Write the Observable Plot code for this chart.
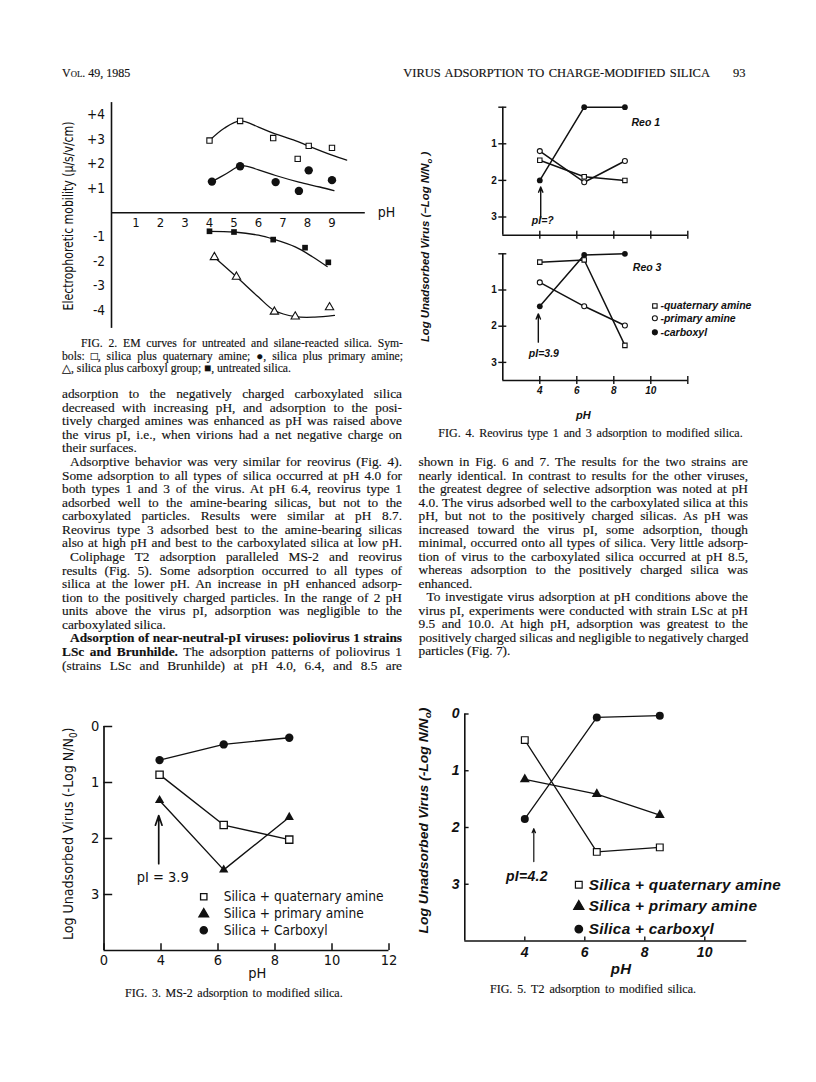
<!DOCTYPE html>
<html><head><meta charset="utf-8">
<script src="https://cdn.jsdelivr.net/npm/d3@7"></script>
<script src="https://cdn.jsdelivr.net/npm/@observablehq/plot@0.6"></script>
<style>
html,body{margin:0;padding:0;background:#fff;}
#page{position:relative;width:816px;height:1082px;overflow:hidden;background:#fff;color:#111;}
.t{position:absolute;white-space:nowrap;line-height:1;font-family:"Liberation Serif","DejaVu Serif",serif;-webkit-text-stroke:0.15px #111;}
.plot{position:absolute;}
.plot svg{max-width:none !important;display:block;}
</style></head><body><div id="page"></div>
<script>
// ---------------- DATA ----------------
// Fig. 2  electrophoretic mobility vs pH
const emQuatPh = [4.0, 5.25, 6.6, 7.6, 8.05, 9.0];
const emQuatVal = [2.95, 3.75, 3.05, 2.2, 2.73, 2.65];
const emPrimPh = [4.1, 5.25, 6.7, 7.65, 8.05, 9.0];
const emPrimVal = [1.27, 1.9, 1.25, 0.89, 1.73, 1.33];
const emUntrPh = [4.0, 5.0, 6.6, 7.9, 8.85];
const emUntrVal = [-0.76, -0.79, -1.1, -1.43, -2.03];
const emCarbPh = [4.2, 5.1, 6.65, 7.5, 8.9];
const emCarbVal = [-1.82, -2.62, -4.05, -4.25, -3.87];
// fitted curves as drawn in the figure
const emQuatCurvePh = [4.0, 4.6, 5.25, 6.0, 6.6, 7.5, 8.05, 9.0, 9.6];
const emQuatCurveVal = [2.95, 3.45, 3.75, 3.5, 3.25, 2.95, 2.72, 2.35, 2.15];
const emPrimCurvePh = [4.1, 4.7, 5.3, 6.0, 6.7, 7.65, 8.5, 9.08];
const emPrimCurveVal = [1.27, 1.6, 1.92, 1.75, 1.52, 1.25, 1.05, 0.9];
const emUntrCurvePh = [4.0, 5.0, 6.0, 6.6, 7.5, 8.2, 8.8];
const emUntrCurveVal = [-0.76, -0.79, -0.92, -1.08, -1.4, -1.8, -2.2];
const emCarbCurvePh = [4.2, 5.1, 6.0, 6.65, 7.5, 8.3, 9.1];
const emCarbCurveVal = [-1.82, -2.62, -3.45, -4.0, -4.25, -4.27, -4.2];
const emXDomain = [0, 10.36];
const emYDomain = [-4.73, 4.5];
const emXTicks = [1, 2, 3, 4, 5, 6, 7, 8, 9];
const emYTicks = [-4, -3, -2, -1, 1, 2, 3, 4];
const emNotes = [{x: 11.22, y: 0, text: "pH"}];

// Fig. 4  reovirus type 1 and 3
const reoPh = [4, 6.4, 8.6];
const reo1Quat = [1.45, 1.9, 2.0];
const reo1Prim = [1.2, 2.05, 1.47];
const reo1Carb = [2.0, 0.0, 0.0];
const reo3Quat = [0.23, 0.17, 2.53];
const reo3Prim = [0.79, 1.45, 1.98];
const reo3Carb = [1.45, 0.03, 0.0];
const reoXDomain = [2, 12];
const reoYDomain = [0, 3.5];
const reoXTicks = [4, 6, 8, 10, 12];
const reoYTicks = [0, 1, 2, 3];
const reo1Arrow = [{x: 4.05, y1: 3.03, y2: 2.18}];
const reo3Arrow = [{x: 3.92, y1: 2.44, y2: 1.66}];
const reo1Notes = [{x: 9.73, y: 0.41, text: "Reo 1", anchor: "start"}, {x: 4.16, y: 3.1, text: "pI=?", anchor: "middle"}];
const reo3Notes = [{x: 9.8, y: 0.39, text: "Reo 3", anchor: "start"}, {x: 4.22, y: 2.76, text: "pI=3.9", anchor: "middle"}];
const reoLegendLabels = ["-quaternary amine", "-primary amine", "-carboxyl"];
const reoLegendY = [1.44, 1.78, 2.17];
const reoLegendSymX = 10.22, reoLegendTextX = 10.52;

// Fig. 3  MS-2
const ms2Ph = [3.95, 6.2, 8.5];
const ms2Carb = [0.6, 0.32, 0.2];
const ms2Quat = [0.86, 1.76, 2.02];
const ms2Prim = [1.32, 2.56, 1.62];
const ms2XDomain = [2, 12];
const ms2YDomain = [0, 4];
const ms2XTicks = [2, 4, 6, 8, 10, 12];
const ms2XTickLabels = ["0", "4", "6", "8", "10", "12"];
const ms2YTicks = [0, 1, 2, 3];
const ms2Arrow = [{x: 3.92, y1: 2.45, y2: 1.59}];
const ms2Notes = [{x: 4.06, y: 2.69, text: "pI = 3.9"}];
const ms2LegendLabels = ["Silica + quaternary amine", "Silica + primary amine", "Silica + Carboxyl"];
const ms2LegendY = [3.04, 3.35, 3.64];
const ms2LegendSymX = 5.5, ms2LegendTextX = 6.2;

// Fig. 5  T2
const t2Ph = [4.0, 6.4, 8.5];
const t2Carb = [1.85, 0.06, 0.03];
const t2Quat = [0.46, 2.43, 2.35];
const t2Prim = [1.15, 1.41, 1.78];
const t2XDomain = [2, 11.4];
const t2YDomain = [0, 4];
const t2XTicks = [4, 6, 8, 10];
const t2YTicks = [0, 1, 2, 3];
const t2Arrow = [{x: 4.3, y1: 2.6, y2: 2.02}];
const t2Notes = [{x: 4.07, y: 2.86, text: "pI=4.2"}];
const t2LegendLabels = ["Silica + quaternary amine", "Silica + primary amine", "Silica + carboxyl"];
const t2LegendY = [3.01, 3.39, 3.79];
const t2LegendSymX = 5.8, t2LegendTextX = 6.13;

// ---------------- TEXT ----------------
const leftLines = [
 ["adsorption to the negatively charged carboxylated silica", 1, 0],
 ["decreased with increasing pH, and adsorption to the posi-", 1, 0],
 ["tively charged amines was enhanced as pH was raised above", 1, 0],
 ["the virus pI, i.e., when virions had a net negative charge on", 1, 0],
 ["their surfaces.", 0, 0],
 ["Adsorptive behavior was very similar for reovirus (Fig. 4).", 1, 1],
 ["Some adsorption to all types of silica occurred at pH 4.0 for", 1, 0],
 ["both types 1 and 3 of the virus. At pH 6.4, reovirus type 1", 1, 0],
 ["adsorbed well to the amine-bearing silicas, but not to the", 1, 0],
 ["carboxylated particles. Results were similar at pH 8.7.", 1, 0],
 ["Reovirus type 3 adsorbed best to the amine-bearing silicas", 1, 0],
 ["also at high pH and best to the carboxylated silica at low pH.", 1, 0],
 ["Coliphage T2 adsorption paralleled MS-2 and reovirus", 1, 1],
 ["results (Fig. 5). Some adsorption occurred to all types of", 1, 0],
 ["silica at the lower pH. An increase in pH enhanced adsorp-", 1, 0],
 ["tion to the positively charged particles. In the range of 2 pH", 1, 0],
 ["units above the virus pI, adsorption was negligible to the", 1, 0],
 ["carboxylated silica.", 0, 0],
 ["<b>Adsorption of near-neutral-pI viruses: poliovirus 1 strains</b>", 1, 1],
 ["<b>LSc and Brunhilde.</b> The adsorption patterns of poliovirus 1", 1, 0],
 ["(strains LSc and Brunhilde) at pH 4.0, 6.4, and 8.5 are", 1, 0]
];
const rightLines = [
 ["shown in Fig. 6 and 7. The results for the two strains are", 1, 0],
 ["nearly identical. In contrast to results for the other viruses,", 1, 0],
 ["the greatest degree of selective adsorption was noted at pH", 1, 0],
 ["4.0. The virus adsorbed well to the carboxylated silica at this", 1, 0],
 ["pH, but not to the positively charged silicas. As pH was", 1, 0],
 ["increased toward the virus pI, some adsorption, though", 1, 0],
 ["minimal, occurred onto all types of silica. Very little adsorp-", 1, 0],
 ["tion of virus to the carboxylated silica occurred at pH 8.5,", 1, 0],
 ["whereas adsorption to the positively charged silica was", 1, 0],
 ["enhanced.", 0, 0],
 ["To investigate virus adsorption at pH conditions above the", 1, 1],
 ["virus pI, experiments were conducted with strain LSc at pH", 1, 0],
 ["9.5 and 10.0. At high pH, adsorption was greatest to the", 1, 0],
 ["positively charged silicas and negligible to negatively charged", 1, 0],
 ["particles (Fig. 7).", 0, 0]
];
const fig2Caption = [
 ["FIG. 2. EM curves for untreated and silane-reacted silica. Sym-", 1, 1],
 ["bols: \u25A1, silica plus quaternary amine; \u25CF, silica plus primary amine;", 1, 0],
 ["\u25B3, silica plus carboxyl group; \u25A0, untreated silica.", 0, 0]
];

// ---------------- HELPERS ----------------
const INK = "#111";
const page = document.getElementById("page");
const NARROW = '"DejaVu Sans Condensed","Liberation Sans Narrow","Liberation Sans",sans-serif';
const BSANS = '"Liberation Sans","DejaVu Sans",sans-serif';

function addText(html, x, cy, o = {}) {
  const fs = o.size || 13.35;
  const el = document.createElement("div");
  el.className = "t";
  el.innerHTML = html;
  el.style.fontSize = fs + "px";
  el.style.left = x + "px";
  el.style.top = (cy - 0.56 * fs) + "px";
  el.style.color = INK;
  if (o.family) el.style.fontFamily = o.family;
  if (o.weight) el.style.fontWeight = o.weight;
  if (o.fstyle) el.style.fontStyle = o.fstyle;
  if (o.variant) el.style.fontVariant = o.variant;
  page.appendChild(el);
  const nat = el.getBoundingClientRect().width;
  if (o.w) {
    const sp = (el.textContent.match(/ /g) || []).length;
    if (o.mode === "j" && nat < o.w && sp) el.style.wordSpacing = ((o.w - nat) / sp) + "px";
    else if (nat > o.w || o.mode === "s") { el.style.transformOrigin = "0 0"; el.style.transform = `scaleX(${o.w / nat})`; }
  }
  return el;
}
function addRot(html, cx, cy, len, o = {}) {
  const el = document.createElement("div");
  el.className = "t";
  el.innerHTML = html;
  el.style.fontSize = (o.size || 13) + "px";
  el.style.fontFamily = o.family || BSANS;
  el.style.webkitTextStroke = "0px";
  if (o.weight) el.style.fontWeight = o.weight;
  if (o.fstyle) el.style.fontStyle = o.fstyle;
  el.style.color = INK;
  page.appendChild(el);
  const w = el.offsetWidth, h = el.offsetHeight;
  el.style.left = (cx - w / 2) + "px";
  el.style.top = (cy - h / 2) + "px";
  el.style.transformOrigin = "50% 50%";
  el.style.transform = `rotate(-90deg) scaleX(${len / w})`;
}
function place(svg, left, top, width) {
  const d = document.createElement("div");
  d.className = "plot";
  d.style.left = left + "px"; d.style.top = top + "px"; d.style.width = width + "px";
  d.appendChild(svg);
  page.appendChild(d);
}
const zip = (xs, ys) => xs.map((x, i) => ({x, y: ys[i]}));
const style = (fam, size, weight = "normal", fst = "normal", ls = "normal") => ({background: "transparent", color: INK, fontFamily: fam, fontSize: size + "px", fontWeight: weight, fontStyle: fst, letterSpacing: ls, overflow: "visible"});

// ---------------- HEADER & TEXT ----------------
addText("Vol. 49, 1985", 61.7, 73.5, {size: 12.5, variant: "small-caps", w: 68.3, mode: "j"});
addText("VIRUS ADSORPTION TO CHARGE-MODIFIED SILICA", 403.3, 74, {size: 12.5, w: 306.7, mode: "j"});
addText("93", 733, 74, {size: 12.5});

fig2Caption.forEach(([s, j, ind], i) => {
  const x = ind ? 81 : 62;
  addText(s, x, 345 + i * 12.1, {size: 11.7, w: 403 - x, mode: j ? "j" : "n"});
});
leftLines.forEach(([s, j, ind], i) => {
  const x = 62 + (ind ? 8 : 0);
  addText(s, x, 394.5 + i * 13.58, {w: 402 - x, mode: j ? "j" : "n"});
});
addText("FIG. 4. Reovirus type 1 and 3 adsorption to modified silica.", 438.3, 434, {size: 12, w: 304.4, mode: "j"});
rightLines.forEach(([s, j, ind], i) => {
  const x = 418.5 + (ind ? 8 : 0);
  addText(s, x, 462.5 + i * 13.5, {w: 748 - x, mode: j ? "j" : "n"});
});
addText("FIG. 3. MS-2 adsorption to modified silica.", 125, 993.3, {size: 12, w: 217.7, mode: "j"});
addText("FIG. 5. T2 adsorption to modified silica.", 490, 990, {size: 12, w: 206, mode: "j"});

// ---------------- FIG 2 ----------------
const fig2 = Plot.plot({
  width: 370, height: 250, marginLeft: 71, marginRight: 45.2, marginTop: 12.1, marginBottom: 12.1,
  x: {domain: emXDomain, axis: null}, y: {domain: emYDomain, axis: null},
  style: style(NARROW, 13.5),
  marks: [
    Plot.ruleX([emXDomain[0]], {y1: emYDomain[0], y2: emYDomain[1], strokeWidth: 1.6, stroke: INK}),
    Plot.ruleY([0], {x1: emXDomain[0], x2: emXDomain[1], strokeWidth: 1.6, stroke: INK}),
    Plot.text(emXTicks, {x: d => d, y: 0, dy: 9.8, text: d => String(d), fill: INK, fontSize: 13}),
    Plot.axisY({ticks: emYTicks, tickSize: 0, tickPadding: 6.5, tickFormat: d => (d > 0 ? "+" : "-") + Math.abs(d), label: null, fill: INK}),
    Plot.text(emNotes, {x: "x", y: "y", text: "text", fill: INK, fontSize: 14}),
    Plot.line(zip(emQuatCurvePh, emQuatCurveVal), {x: "x", y: "y", curve: "catmull-rom", stroke: INK, strokeWidth: 1.3}),
    Plot.line(zip(emPrimCurvePh, emPrimCurveVal), {x: "x", y: "y", curve: "catmull-rom", stroke: INK, strokeWidth: 1.3}),
    Plot.line(zip(emUntrCurvePh, emUntrCurveVal), {x: "x", y: "y", curve: "catmull-rom", stroke: INK, strokeWidth: 1.3}),
    Plot.line(zip(emCarbCurvePh, emCarbCurveVal), {x: "x", y: "y", curve: "catmull-rom", stroke: INK, strokeWidth: 1.3}),
    Plot.dot(zip(emQuatPh, emQuatVal), {x: "x", y: "y", symbol: "square", r: 3.0, fill: "white", stroke: INK, strokeWidth: 1.1}),
    Plot.dot(zip(emPrimPh, emPrimVal), {x: "x", y: "y", symbol: "circle", r: 4.2, fill: INK}),
    Plot.dot(zip(emUntrPh, emUntrVal), {x: "x", y: "y", symbol: "square", r: 3.2, fill: INK}),
    Plot.dot(zip(emCarbPh, emCarbVal), {x: "x", y: "y", symbol: "triangle", r: 3.1, fill: "white", stroke: INK, strokeWidth: 1.1})
  ]
});
place(fig2, 40, 90, 370);
addRot("Electrophoretic mobility (\u03BC/s/v/cm)", 68.3, 216, 189, {family: NARROW, size: 14});

// ---------------- FIG 4 ----------------
function reoPanel(quat, prim, carb, arrow, notes, opts) {
  const marks = [
    Plot.ruleX([reoXDomain[0]], {y1: reoYDomain[0], y2: reoYDomain[1], strokeWidth: 1.6, stroke: INK}),
    Plot.ruleY([reoYDomain[1]], {x1: reoXDomain[0], x2: reoXDomain[1], strokeWidth: 1.6, stroke: INK}),
    Plot.axisY({ticks: reoYTicks, tickSize: 8, dx: 4, tickPadding: 2, strokeWidth: 1.4, tickFormat: d => d === 0 ? "" : String(d), label: null, fill: INK, fontStyle: "normal"}),
    Plot.axisX({ticks: reoXTicks, tickSize: 8, dy: -4, tickPadding: 2.5, strokeWidth: 1.4, tickFormat: d => (opts.xlabels && d !== 12) ? String(d) : "", label: null, fill: INK}),
    Plot.line(zip(reoPh, quat), {x: "x", y: "y", stroke: INK, strokeWidth: 1.5}),
    Plot.line(zip(reoPh, prim), {x: "x", y: "y", stroke: INK, strokeWidth: 1.5}),
    Plot.line(zip(reoPh, carb), {x: "x", y: "y", stroke: INK, strokeWidth: 1.5}),
    Plot.dot(zip(reoPh, quat), {x: "x", y: "y", symbol: "square", r: 2.5, fill: "white", stroke: INK, strokeWidth: 1.1}),
    Plot.dot(zip(reoPh, prim), {x: "x", y: "y", symbol: "circle", r: 2.5, fill: "white", stroke: INK, strokeWidth: 1.1}),
    Plot.dot(zip(reoPh, carb), {x: "x", y: "y", symbol: "circle", r: 2.9, fill: INK}),
    Plot.arrow(arrow, {x1: "x", y1: "y1", x2: "x", y2: "y2", headLength: 6, headAngle: 45, stroke: INK, strokeWidth: 1.4}),
    Plot.text(notes, {x: "x", y: "y", text: "text", textAnchor: d => d.anchor, fill: INK, fontSize: 10.5})
  ];
  if (opts.legend) {
    const sym = ["square", "circle", "circle"], fills = ["white", "white", INK];
    marks.push(Plot.dot(reoLegendY.map((y, i) => ({x: reoLegendSymX, y, s: sym[i], f: fills[i]})), {x: "x", y: "y", symbol: "s", fill: "f", r: 2.5, stroke: INK, strokeWidth: 1.1}));
    marks.push(Plot.text(reoLegendY.map((y, i) => ({x: reoLegendTextX, y, t: reoLegendLabels[i]})), {x: "x", y: "y", text: "t", textAnchor: "start", fill: INK, fontSize: 10.5}));
    marks.push(Plot.text(["pH"], {frameAnchor: "bottom", x: 6.35, dy: 38.3, text: d => d, fill: INK, fontSize: 11}));
  }
  return Plot.plot({
    width: 330, height: opts.height, marginLeft: 82.3, marginRight: 62.7, marginTop: opts.mt, marginBottom: opts.mb,
    x: {domain: reoXDomain, axis: null}, y: {domain: reoYDomain, reverse: true, axis: null},
    symbol: {type: "identity"},
    style: style(BSANS, 10, "bold", "italic"),
    marks
  });
}
place(reoPanel(reo1Quat, reo1Prim, reo1Carb, reo1Arrow, reo1Notes, {height: 150, mt: 11.7, mb: 10.2}), 420, 95, 330);
place(reoPanel(reo3Quat, reo3Prim, reo3Carb, reo3Arrow, reo3Notes, {height: 190, mt: 8.3, mb: 55, xlabels: true, legend: true}), 420, 245, 330);
addRot("Log Unadsorbed Virus (\u2212Log N/N<sub style='font-size:70%'>o</sub> )", 426.7, 246.7, 190, {size: 11, weight: "bold", fstyle: "italic"});

// ---------------- FIG 3 ----------------
const fig3 = Plot.plot({
  width: 370, height: 290, marginLeft: 63.5, marginRight: 21.5, marginTop: 26, marginBottom: 40,
  x: {domain: ms2XDomain, axis: null}, y: {domain: ms2YDomain, reverse: true, axis: null},
  symbol: {type: "identity"},
  style: style(NARROW, 14.5),
  marks: [
    Plot.ruleX([ms2XDomain[0]], {y1: ms2YDomain[0], y2: ms2YDomain[1], strokeWidth: 1.7, stroke: INK}),
    Plot.ruleY([ms2YDomain[1]], {x1: ms2XDomain[0], x2: ms2XDomain[1], strokeWidth: 1.7, stroke: INK}),
    Plot.axisY({ticks: ms2YTicks, tickSize: 8.7, dx: 8.7, tickPadding: 4.7, strokeWidth: 1.5, tickFormat: d => String(d), label: null, fill: INK}),
    Plot.axisX({ticks: ms2XTicks, tickSize: 6.7, dy: -6.7, tickPadding: 4.6, strokeWidth: 1.5, tickFormat: d => ms2XTickLabels[ms2XTicks.indexOf(d)], label: null, fill: INK}),
    Plot.text(["pH"], {frameAnchor: "bottom", x: 7.38, dy: 27.5, text: d => d, fill: INK}),
    Plot.line(zip(ms2Ph, ms2Carb), {x: "x", y: "y", stroke: INK, strokeWidth: 1.4}),
    Plot.line(zip(ms2Ph, ms2Quat), {x: "x", y: "y", stroke: INK, strokeWidth: 1.4}),
    Plot.line(zip(ms2Ph, ms2Prim), {x: "x", y: "y", stroke: INK, strokeWidth: 1.4}),
    Plot.dot(zip(ms2Ph, ms2Carb), {x: "x", y: "y", symbol: "circle", r: 4.2, fill: INK}),
    Plot.dot(zip(ms2Ph, ms2Quat), {x: "x", y: "y", symbol: "square", r: 4.1, fill: "white", stroke: INK, strokeWidth: 1.3}),
    Plot.dot(zip(ms2Ph, ms2Prim), {x: "x", y: "y", symbol: "triangle", r: 3.45, fill: INK}),
    Plot.arrow(ms2Arrow, {x1: "x", y1: "y1", x2: "x", y2: "y2", headLength: 9, headAngle: 38, stroke: INK, strokeWidth: 1.7}),
    Plot.text(ms2Notes, {x: "x", y: "y", text: "text", fill: INK}),
    Plot.dot(ms2LegendY.map((y, i) => ({x: ms2LegendSymX, y, s: ["square", "triangle", "circle"][i], f: ["white", INK, INK][i]})), {x: "x", y: "y", symbol: "s", fill: "f", r: 3.6, stroke: INK, strokeWidth: 1.3}),
    Plot.text(ms2LegendY.map((y, i) => ({x: ms2LegendTextX, y, t: ms2LegendLabels[i]})), {x: "x", y: "y", text: "t", textAnchor: "start", fill: INK, fontSize: 13.6})
  ]
});
place(fig3, 40, 700, 370);
addRot("Log Unadsorbed Virus (-Log N/N<sub style='font-size:70%'>0</sub>)", 70, 834, 213, {family: NARROW, size: 14});

// ---------------- FIG 5 ----------------
const fig5 = Plot.plot({
  width: 380, height: 300, marginLeft: 54.3, marginRight: 43.7, marginTop: 23.5, marginBottom: 49.5,
  x: {domain: t2XDomain, axis: null}, y: {domain: t2YDomain, reverse: true, axis: null},
  symbol: {type: "identity"},
  style: style(BSANS, 14, "bold", "italic", "0.3px"),
  marks: [
    Plot.ruleX([t2XDomain[0]], {y1: t2YDomain[0], y2: t2YDomain[1], strokeWidth: 1.6, stroke: INK}),
    Plot.ruleY([t2YDomain[1]], {x1: t2XDomain[0], x2: t2XDomain[1], strokeWidth: 1.6, stroke: INK}),
    Plot.axisY({ticks: t2YTicks, tickSize: 4.3, dx: 4.3, tickPadding: 5, strokeWidth: 1.4, tickFormat: d => String(d), label: null, fill: INK}),
    Plot.axisX({ticks: t2XTicks, tickSize: 4, dy: -4, tickPadding: 6.5, strokeWidth: 1.4, tickFormat: d => String(d), label: null, fill: INK}),
    Plot.text(["pH"], {frameAnchor: "bottom", x: 7.21, dy: 32.8, text: d => d, fill: INK, fontSize: 15}),
    Plot.line(zip(t2Ph, t2Carb), {x: "x", y: "y", stroke: INK, strokeWidth: 1.3}),
    Plot.line(zip(t2Ph, t2Quat), {x: "x", y: "y", stroke: INK, strokeWidth: 1.3}),
    Plot.line(zip(t2Ph, t2Prim), {x: "x", y: "y", stroke: INK, strokeWidth: 1.3}),
    Plot.dot(zip(t2Ph, t2Carb), {x: "x", y: "y", symbol: "circle", r: 4, fill: INK}),
    Plot.dot(zip(t2Ph, t2Quat), {x: "x", y: "y", symbol: "square", r: 3.8, fill: "white", stroke: INK, strokeWidth: 1.2}),
    Plot.dot(zip(t2Ph, t2Prim), {x: "x", y: "y", symbol: "triangle", r: 3.7, fill: INK}),
    Plot.arrow(t2Arrow, {x1: "x", y1: "y1", x2: "x", y2: "y2", headLength: 5.5, headAngle: 45, stroke: INK, strokeWidth: 1.2}),
    Plot.text(t2Notes, {x: "x", y: "y", text: "text", fill: INK}),
    Plot.dot(t2LegendY.map((y, i) => ({x: t2LegendSymX, y, s: ["square", "triangle", "circle"][i], f: ["white", INK, INK][i]})), {x: "x", y: "y", symbol: "s", fill: "f", r: 3.8, stroke: INK, strokeWidth: 1.2}),
    Plot.text(t2LegendY.map((y, i) => ({x: t2LegendTextX, y, t: t2LegendLabels[i]})), {x: "x", y: "y", text: "t", textAnchor: "start", fill: INK, fontSize: 15.3, letterSpacing: "0.5px"})
  ]
});
place(fig5, 410, 690, 380);
addRot("Log Unadsorbed Virus (-Log N/N<sub style='font-size:70%'>o</sub>)", 425, 820, 226, {size: 12.5, weight: "bold", fstyle: "italic"});
</script></body></html>
